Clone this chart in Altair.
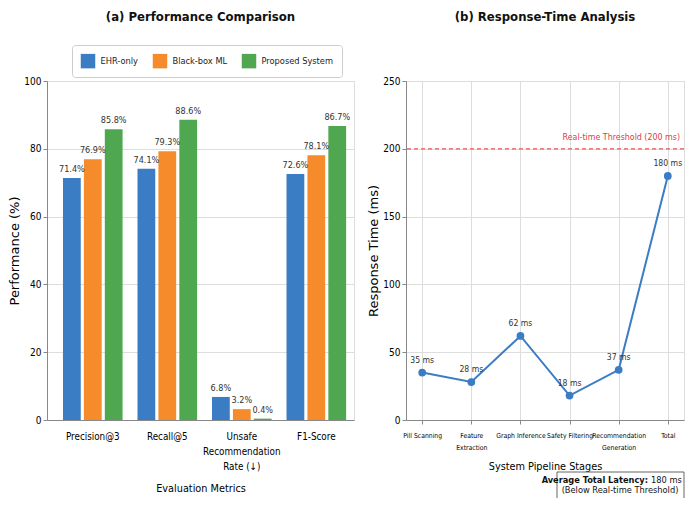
import altair as alt
import pandas as pd

# ---------------- data ----------------
metrics = ["Precision@3", "Recall@5", "Unsafe|Recommendation|Rate (↓)", "F1-Score"]
methods = ["EHR-only", "Black-box ML", "Proposed System"]
ehr_only = [71.4, 74.1, 6.8, 72.6]
black_box = [76.9, 79.3, 3.2, 78.1]
proposed = [85.8, 88.6, 0.4, 86.7]
method_colors = ["#3b7dc4", "#f58b2a", "#4fa84f"]
perf_ticks = [0, 20, 40, 60, 80, 100]

stages = ["Pill Scanning", "Feature|Extraction", "Graph Inference", "Safety Filtering",
          "Recommendation|Generation", "Total"]
latency_ms = [35, 28, 62, 18, 37, 180]
time_ticks = [0, 50, 100, 150, 200, 250]
threshold_ms = [200]
threshold_label = ["Real-time Threshold (200 ms)"]
summary_bold = ["Average Total Latency:"]
summary_value = ["180 ms"]
summary_note = ["(Below Real-time Threshold)"]

rows = []
for m, vals in zip(methods, [ehr_only, black_box, proposed]):
    for metric, v in zip(metrics, vals):
        rows.append({"metric": metric, "method": m, "value": v, "label": f"{v:.1f}%"})
perf = pd.DataFrame(rows)

lat = pd.DataFrame({"stage": stages, "ms": latency_ms,
                    "label": [f"{v} ms" for v in latency_ms]})
thr = pd.DataFrame({"y": threshold_ms, "label": threshold_label})
summ = pd.DataFrame({"bold": summary_bold, "value": summary_value, "note": summary_note})

NARROW = "DejaVu Sans Condensed, DejaVu Sans, sans-serif"
WIDE = "DejaVu Sans"

LW, LH = 307, 339
RW, RH = 278, 339

# ---------------- left panel ----------------
xl = alt.X("metric:N", sort=metrics,
           scale=alt.Scale(paddingInner=0.2, paddingOuter=0.16, align=0.67),
           axis=alt.Axis(title="Evaluation Metrics", labelAngle=0,
                         labelExpr="split(datum.label, '|')",
                         labelFont=NARROW, labelFontSize=9.8, labelLineHeight=15,
                         labelPadding=11, ticks=False,
                         titleFont=NARROW, titleFontSize=10.8, titleFontWeight="normal",
                         titlePadding=12, grid=False))
yl = alt.Y("value:Q",
           scale=alt.Scale(domain=[0, 100], nice=False),
           axis=alt.Axis(title="Performance (%)", values=perf_ticks,
                         titleFont=WIDE, titleFontSize=13, titleFontWeight="normal",
                         titlePadding=2, labelFont=NARROW, labelFontSize=10,
                         tickSize=4, labelPadding=2, grid=True))

bars = alt.Chart(perf).mark_bar().encode(
    x=xl, y=yl,
    xOffset=alt.XOffset("method:N", sort=methods, scale=alt.Scale(paddingInner=0.15)),
    color=alt.Color("method:N", sort=methods,
                    scale=alt.Scale(domain=methods, range=method_colors),
                    legend=alt.Legend(title=None, orient="none", direction="horizontal",
                                      legendX=25, legendY=-36,
                                      symbolType="square", symbolSize=210,
                                      symbolStrokeWidth=0, symbolOpacity=1,
                                      labelFont=NARROW, labelFontSize=9.2,
                                      labelColor="#222", labelOffset=5,
                                      columnPadding=14, padding=8.5,
                                      strokeColor="#cccccc", fillColor="white",
                                      cornerRadius=3)),
)
bar_text = alt.Chart(perf).mark_text(baseline="bottom", dy=-4, font=NARROW,
                                     fontSize=9, color="#333").encode(
    x=alt.X("metric:N", sort=metrics), y="value:Q",
    xOffset=alt.XOffset("method:N", sort=methods),
    text="label:N",
)
left = alt.layer(bars, bar_text).properties(
    width=LW, height=LH,
    title=alt.TitleParams("(a) Performance Comparison", font=NARROW, fontSize=13,
                          fontWeight="bold", color="#111", anchor="middle", offset=52),
)

# ---------------- right panel ----------------
xr = alt.X("stage:N", sort=stages,
           scale=alt.Scale(type="point", padding=0.33),
           axis=alt.Axis(title="System Pipeline Stages", labelAngle=0,
                         labelExpr="split(datum.label, '|')", labelOverlap=False,
                         labelFont=NARROW, labelFontSize=6.8, labelLineHeight=12,
                         labelPadding=8, tickSize=4,
                         titleFont=NARROW, titleFontSize=10.8, titleFontWeight="normal",
                         titlePadding=10, grid=True))
yr = alt.Y("ms:Q", scale=alt.Scale(domain=[0, 250], nice=False),
           axis=alt.Axis(title="Response Time (ms)", values=time_ticks,
                         titleFont=WIDE, titleFontSize=13, titleFontWeight="normal",
                         titlePadding=2, labelFont=NARROW, labelFontSize=10,
                         tickSize=4, labelPadding=2, grid=True))

line = alt.Chart(lat).mark_line(color="#3b7dc4", strokeWidth=2).encode(x=xr, y=yr)
pts = alt.Chart(lat).mark_circle(color="#3b7dc4", size=60, opacity=1).encode(
    x=alt.X("stage:N", sort=stages), y="ms:Q")
pt_text = alt.Chart(lat).mark_text(baseline="bottom", dy=-8, font=NARROW, fontSize=8.6,
                                   color="#333").encode(
    x=alt.X("stage:N", sort=stages), y="ms:Q", text="label:N")

rule = alt.Chart(thr).mark_rule(color="#e8545a", strokeWidth=1.3, strokeDash=[4, 3]).encode(
    y="y:Q")
rule_text = alt.Chart(thr).mark_text(align="right", baseline="bottom", dy=-7,
                                     font=NARROW, fontSize=8.8, color="#e03c3c").encode(
    y="y:Q", x=alt.value(RW - 4), text="label:N")

box = alt.Chart(summ).mark_rect(fill="white", stroke="#666", strokeWidth=1).encode(
    x=alt.value(151), x2=alt.value(278), y=alt.value(391), y2=alt.value(425))
box_t1 = alt.Chart(summ).mark_text(align="right", baseline="middle", font=NARROW,
                                   fontSize=9.2, fontWeight="bold", color="#111").encode(
    x=alt.value(242), y=alt.value(399), text="bold:N")
box_t2 = alt.Chart(summ).mark_text(align="left", baseline="middle", font=NARROW,
                                   fontSize=9.2, color="#111").encode(
    x=alt.value(245), y=alt.value(399), text="value:N")
box_t3 = alt.Chart(summ).mark_text(align="center", baseline="middle", font=NARROW,
                                   fontSize=9.2, color="#111").encode(
    x=alt.value(214), y=alt.value(409), text="note:N")

right = alt.layer(rule, line, pts, pt_text, rule_text, box, box_t1, box_t2, box_t3).properties(
    width=RW, height=RH,
    title=alt.TitleParams("(b) Response-Time Analysis", font=NARROW, fontSize=13,
                          fontWeight="bold", color="#111", anchor="middle", offset=52),
)

chart = alt.hconcat(left, right, spacing=12).properties(
    padding={"left": 0, "top": 2, "right": 0, "bottom": -9}
).configure_view(stroke=None).configure_axis(
    domainColor="#444", tickColor="#444", labelColor="#222", titleColor="#222",
    gridColor="#e6e6e6", gridDash=[3, 3], gridWidth=0.8,
).configure(background="white")

chart.save("out.html", embed_options={"renderer": "svg", "actions": False})
